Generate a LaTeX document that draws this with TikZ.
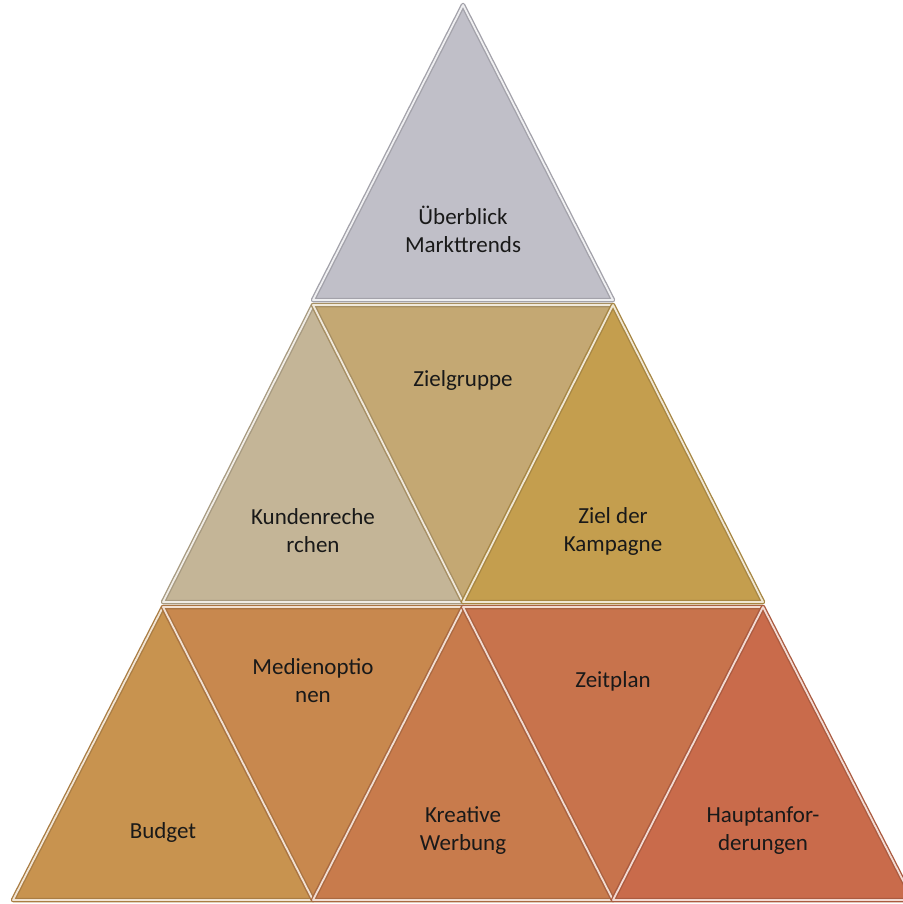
\documentclass[tikz,border=0pt]{standalone}
\usepackage{fontspec}
\setmainfont{Carlito}
\usepackage{tikz}
\tikzset{>=latex}

\definecolor{graytop}{RGB}{192,191,200}
\definecolor{sandrow}{RGB}{196,181,151}
\definecolor{tanrow}{RGB}{196,168,115}
\definecolor{goldrow}{RGB}{196,158,78}
\definecolor{ochrerow}{RGB}{200,147,79}
\definecolor{amberrow}{RGB}{200,136,78}
\definecolor{rustrow}{RGB}{200,123,76}
\definecolor{copperrow}{RGB}{200,115,76}
\definecolor{brickrow}{RGB}{201,107,75}

\begin{document}
\begin{tikzpicture}[x=1pt,y=-1pt,
  tri/.style={fill=#1,draw=#1!85!black,line width=4.5pt,line join=round,
    postaction={draw=#1!25!white,line width=1.8pt}},
  tritext/.style={font=\fontsize{23}{28}\selectfont,align=center,text=black!90}]

	\useasboundingbox (0,0) rectangle (902,904);

	% top row
	\path[tri=graytop] (463,5) -- (313,300) -- (613,300) -- cycle;

	% middle row
	\path[tri=sandrow] (313,305) -- (163,602) -- (463,602) -- cycle;
	\path[tri=tanrow] (313,305) -- (613,305) -- (463,602) -- cycle;
	\path[tri=goldrow] (613,305) -- (463,602) -- (763,602) -- cycle;

	% bottom row
	\path[tri=ochrerow] (163,607) -- (13,900) -- (313,900) -- cycle;
	\path[tri=amberrow] (163,607) -- (463,607) -- (313,900) -- cycle;
	\path[tri=rustrow] (463,607) -- (313,900) -- (613,900) -- cycle;
	\path[tri=copperrow] (463,607) -- (763,607) -- (613,900) -- cycle;
	\path[tri=brickrow] (763,607) -- (613,900) -- (913,900) -- cycle;

	\node[tritext] (trends) at (463,229) {Überblick\\Markttrends};
	\node[tritext] (kunden) at (313,531) {Kundenreche\\rchen};
	\node[tritext] (ziel) at (463,380) {Zielgruppe};
	\node[tritext] (kampagne) at (613,531) {Ziel der\\Kampagne};
	\node[tritext] (budget) at (163,832) {Budget};
	\node[tritext] (medien) at (313,681) {Medienoptio\\nen};
	\node[tritext] (kreativ) at (463,831) {Kreative\\Werbung};
	\node[tritext] (zeit) at (613,681) {Zeitplan};
	\node[tritext] (haupt) at (763,831) {Hauptanfor-\\derungen};
\end{tikzpicture}
\end{document}
